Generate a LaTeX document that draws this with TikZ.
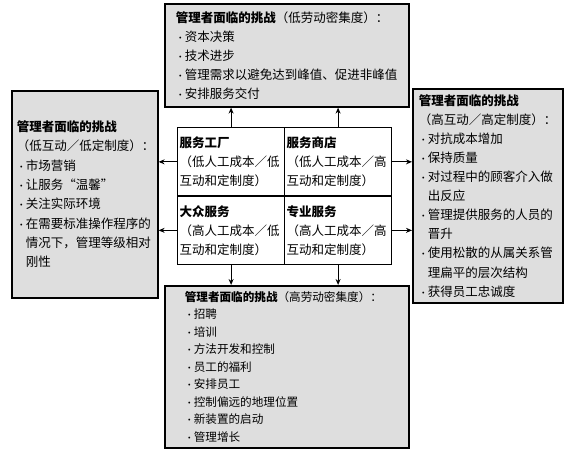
\documentclass[tikz,border=0pt]{standalone}
\usepackage{fontspec}
\setmainfont{Noto Sans CJK SC}
\usetikzlibrary{arrows.meta}

\newcommand{\bul}{\makebox[9pt][l]{\small•}}
\newcommand{\ind}{\hspace*{9pt}}

\begin{document}
\begin{tikzpicture}[x=1pt, y=-1pt,
    challenge/.style={rectangle, draw, line width=1.6pt, fill=black!13, anchor=north west, align=left},
    cell/.style={rectangle, draw, line width=1.2pt, fill=white, anchor=north west, minimum width=107, minimum height=68.5, text width=103, inner xsep=2, align=left, font=\fontsize{12.5}{19}\selectfont},
    arrow/.style={-{Stealth[length=6pt, width=5pt]}, line width=1pt}
]
    \useasboundingbox (0,0) rectangle (566,452);

    \node[cell] (factory) at (177,127) {\textbf{服务工厂}\\（低人工成本／低\\互动和定制度）};
    \node[cell] (shop) at (284,127) {\textbf{服务商店}\\（低人工成本／高\\互动和定制度）};
    \node[cell] (mass) at (177,195.5) {\textbf{大众服务}\\（高人工成本／低\\互动和定制度）};
    \node[cell] (prof) at (284,195.5) {\textbf{专业服务}\\（高人工成本／高\\互动和定制度）};

    \node[challenge, minimum width=244, minimum height=103, inner xsep=11, text width=222, font=\fontsize{12.5}{19}\selectfont] (top) at (164,3)
        {\textbf{管理者面临的挑战}（低劳动密集度）：\\
         \bul 资本决策\\
         \bul 技术进步\\
         \bul 管理需求以避免达到峰值、促进非峰值\\
         \bul 安排服务交付};

    \node[challenge, minimum width=146, minimum height=207, inner xsep=5, text width=136, font=\fontsize{12.5}{19.3}\selectfont] (left) at (11,90)
        {\textbf{管理者面临的挑战}\\
         （低互动／低定制度）：\\
         \bul 市场营销\\
         \bul 让服务“温馨”\\
         \bul 关注实际环境\\
         \bul 在需要标准操作程序的\\
         \ind 情况下，管理等级相对\\
         \ind 刚性};

    \node[challenge, minimum width=150, minimum height=214, inner xsep=6, text width=138, font=\fontsize{12.5}{19.1}\selectfont] (right) at (412,88)
        {\textbf{管理者面临的挑战}\\
         （高互动／高定制度）：\\
         \bul 对抗成本增加\\
         \bul 保持质量\\
         \bul 对过程中的顾客介入做\\
         \ind 出反应\\
         \bul 管理提供服务的人员的\\
         \ind 晋升\\
         \bul 使用松散的从属关系管\\
         \ind 理扁平的层次结构\\
         \bul 获得员工忠诚度};

    \node[challenge, minimum width=244, minimum height=162, inner xsep=20, text width=204, font=\fontsize{11.6}{17.5}\selectfont] (bottom) at (164,285)
        {\textbf{管理者面临的挑战}（高劳动密集度）：\\
         \bul 招聘\\
         \bul 培训\\
         \bul 方法开发和控制\\
         \bul 员工的福利\\
         \bul 安排员工\\
         \bul 控制偏远的地理位置\\
         \bul 新装置的启动\\
         \bul 管理增长};

    \draw[arrow] (factory.north) -- (factory.north |- top.south);
    \draw[arrow] (shop.north) -- (shop.north |- top.south);
    \draw[arrow] (mass.south) -- (mass.south |- bottom.north);
    \draw[arrow] (prof.south) -- (prof.south |- bottom.north);
    \draw[arrow] (factory.west) -- (factory.west -| left.east);
    \draw[arrow] (mass.west) -- (mass.west -| left.east);
    \draw[arrow] (shop.east) -- (shop.east -| right.west);
    \draw[arrow] (prof.east) -- (prof.east -| right.west);
\end{tikzpicture}
\end{document}
